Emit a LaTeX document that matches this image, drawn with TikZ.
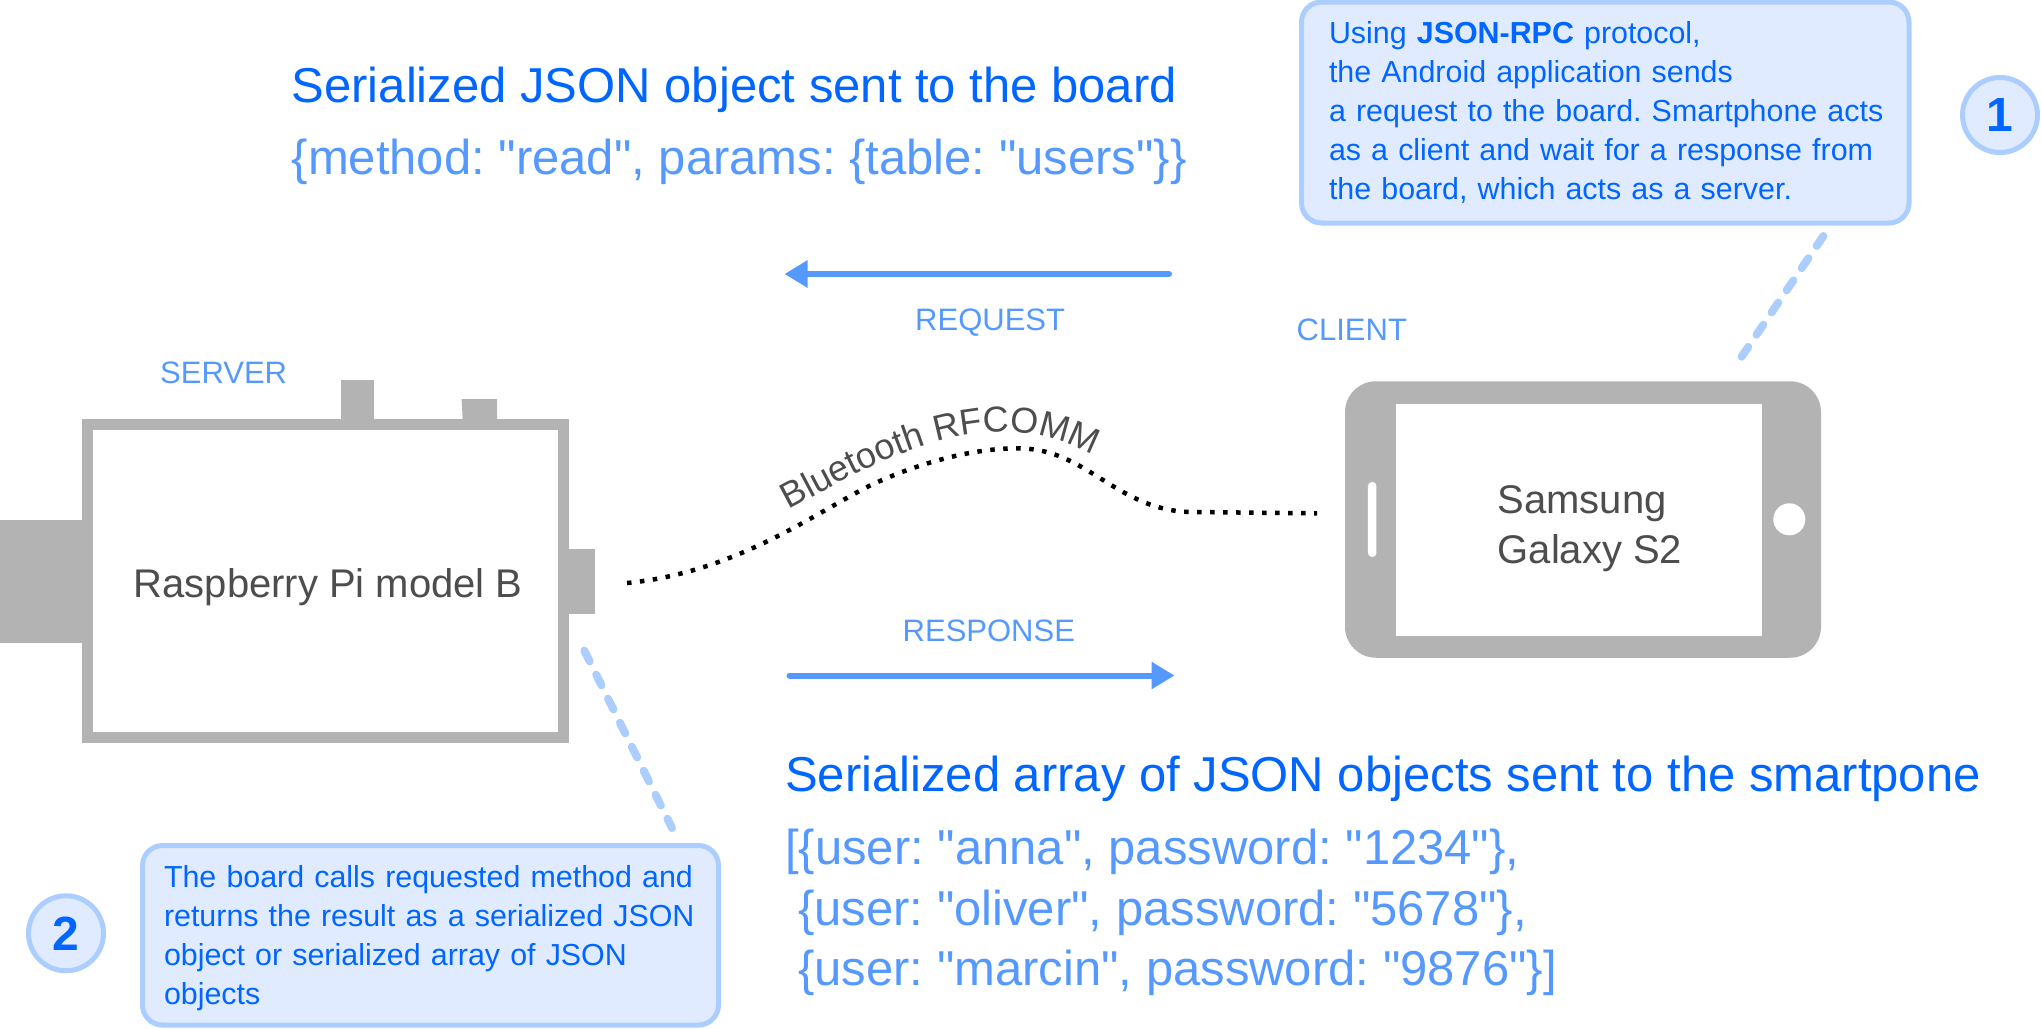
\documentclass[tikz,border=0pt]{standalone}
\usepackage{fontspec}
\setmainfont{Liberation Sans}[Ligatures=TeXOff]
\usepackage{tikz}
\usetikzlibrary{positioning,arrows.meta,decorations.text}

\definecolor{devgrey}{HTML}{B3B3B3}
\definecolor{labelgrey}{HTML}{4D4D4D}
\definecolor{deepblue}{HTML}{0066FF}
\definecolor{midblue}{HTML}{5599FF}
\definecolor{paleblue}{HTML}{ACCEFF}
\definecolor{noteblue}{HTML}{E0EBFF}

\begin{document}
\frenchspacing
\begin{tikzpicture}[
    x=1pt, y=-1pt,
    device/.style={draw=devgrey, line width=11pt, inner sep=0pt, fill=white,
                   minimum width=476.5pt, minimum height=313.5pt},
    devname/.style={anchor=base west, inner sep=0pt, align=left, text=labelgrey,
                 font=\fontsize{40}{49.6}\selectfont},
    note/.style={draw=paleblue, fill=noteblue, line width=5pt, rounded corners=20pt,
                 outer sep=0pt, anchor=north west, align=left, text=deepblue,
                 font=\fontsize{30.4}{39}\selectfont},
    badge/.style={circle, draw=paleblue, fill=noteblue, line width=5pt, inner sep=0pt,
                  outer sep=0pt, minimum size=75pt, text=deepblue,
                  font=\fontsize{48}{48}\selectfont\bfseries},
    head/.style={anchor=base west, inner sep=0pt, text=deepblue,
                 font=\fontsize{49}{58}\selectfont},
    json/.style={anchor=base west, inner sep=0pt, text=midblue,
                 font=\fontsize{49}{58}\selectfont},
    tag/.style={anchor=base west, inner sep=0pt, text=midblue,
                font=\fontsize{31}{36}\selectfont},
    arr/.style={-{Triangle[length=23pt,width=26pt]}, line width=6pt, midblue, line cap=round},
    darr/.style={paleblue, line width=8pt, line cap=round, dash pattern=on 12pt off 14.8pt}
  ]
    \useasboundingbox (0,0) rectangle (2041,1028);

    % board with its connectors
    \fill[devgrey] (0,519.5) rectangle (90,642.5);
    \fill[devgrey] (560,549) rectangle (594.6,613.5);
    \fill[devgrey] (341,379.5) rectangle (374,425);
    \fill[devgrey] (461.6,399) -- (497,399) -- (497,425) -- (463,425) -- cycle;
    \node[device] (board) at (325.3,581) {};
    \node[devname] (boardname) at (133.5,597) {Raspberry Pi model B};

    % phone
    \node[fill=devgrey, rounded corners=31pt, minimum width=476pt, minimum height=276.5pt,
          inner sep=0pt] (phone) at (1583,519.5) {};
    \node[fill=white, minimum width=366pt, minimum height=232pt, inner sep=0pt]
      (screen) at (1579,519.5) {};
    \node[fill=white, rounded corners=4pt, minimum width=8.5pt, minimum height=75pt,
          inner sep=0pt] (slot) at (1372.2,519.5) {};
    \node[circle, fill=white, minimum size=32pt, inner sep=0pt] (homekey) at (1789.3,519.3) {};
    \node[devname] (phonename) at (1497.5,563.3) {Samsung\\Galaxy S2};

    % titles and payloads
    \node[head] (reqtitle) at (291.5,102.5) {Serialized JSON object sent to the board};
    \node[json] (reqjson) at (291.5,174) {\{method: "read", params: \{table: "users"\}\}};
    \node[head] (restitle) at (785,791) {Serialized array of JSON objects sent to the smartpone};
    \node[json] (resjsona) at (785,864) {[\{user: "anna", password: "1234"\},};
    \node[json] (resjsonb) at (798,925.5) {\{user: "oliver", password: "5678"\},};
    \node[json] (resjsonc) at (798,985.5) {\{user: "marcin", password: "9876"\}]};

    \node[tag] (server) at (160,383) {SERVER};
    \node[tag] (client) at (1296.5,340) {CLIENT};
    \node[tag] (request) at (915,330.5) {REQUEST};
    \node[tag] (response) at (902.5,641.7) {RESPONSE};

    % request and response
    \coordinate (reqfrom) at (1169,274);
    \coordinate (reqto) at (784.5,274);
    \coordinate (resfrom) at (789.5,675.5);
    \coordinate (resto) at (1174.5,675.5);
    \draw[arr] (reqfrom) -- (reqto);
    \draw[arr] (resfrom) -- (resto);

    % radio link
    \coordinate (linkfrom) at (627,583);
    \coordinate (linkto) at (1317,513.3);
    \draw[black, line width=4.5pt, dash pattern=on 4.5pt off 8.5pt]
      (linkfrom) .. controls (730,573) and (805,520) .. (865,488)
      .. controls (920,461) and (985,445) .. (1030,449)
      .. controls (1090,455) and (1120,510) .. (1190,512) -- (linkto);
    \path[decorate, decoration={text along path, text align=center,
        text={|\fontsize{36}{36}\selectfont\color{labelgrey}|Bluetooth RFCOMM}}]
      (780,514) .. controls (860,472) and (930,430) .. (1010,432)
      .. controls (1048,434) and (1075,445) .. (1102,460);

    % notes
    \node[note, text width=552.5pt, inner xsep=27.5pt, minimum height=221pt]
      (note1) at (1301.5,2) {Using \textbf{JSON-RPC} protocol,\\
      the Android application sends\\
      \mbox{a request to the board. Smartphone acts}\\
      as a client and wait for a response from\\
      the board, which acts as a server.};
    \node[note, text width=533pt, inner xsep=21.5pt, minimum height=179.5pt]
      (note2) at (142.5,845.5) {\rule{0pt}{27pt}The board calls requested method and\\
      \mbox{returns the result as a serialized JSON}\\
      object or serialized array of JSON\\
      objects};
    \node[badge, right=53.5pt of note1, yshift=-2.5pt] (badge1) {1};
    \node[badge, left=39pt of note2, yshift=2pt] (badge2) {2};

    % leaders
    \coordinate (leadAfrom) at (1823.4,236);
    \coordinate (leadAto) at (1741.6,356.7);
    \coordinate (leadBfrom) at (584.3,650.6);
    \coordinate (leadBto) at (672,828);
    \draw[darr] (leadAfrom) -- (leadAto);
    \draw[darr] (leadBfrom) -- (leadBto);
  \end{tikzpicture}
\end{document}
